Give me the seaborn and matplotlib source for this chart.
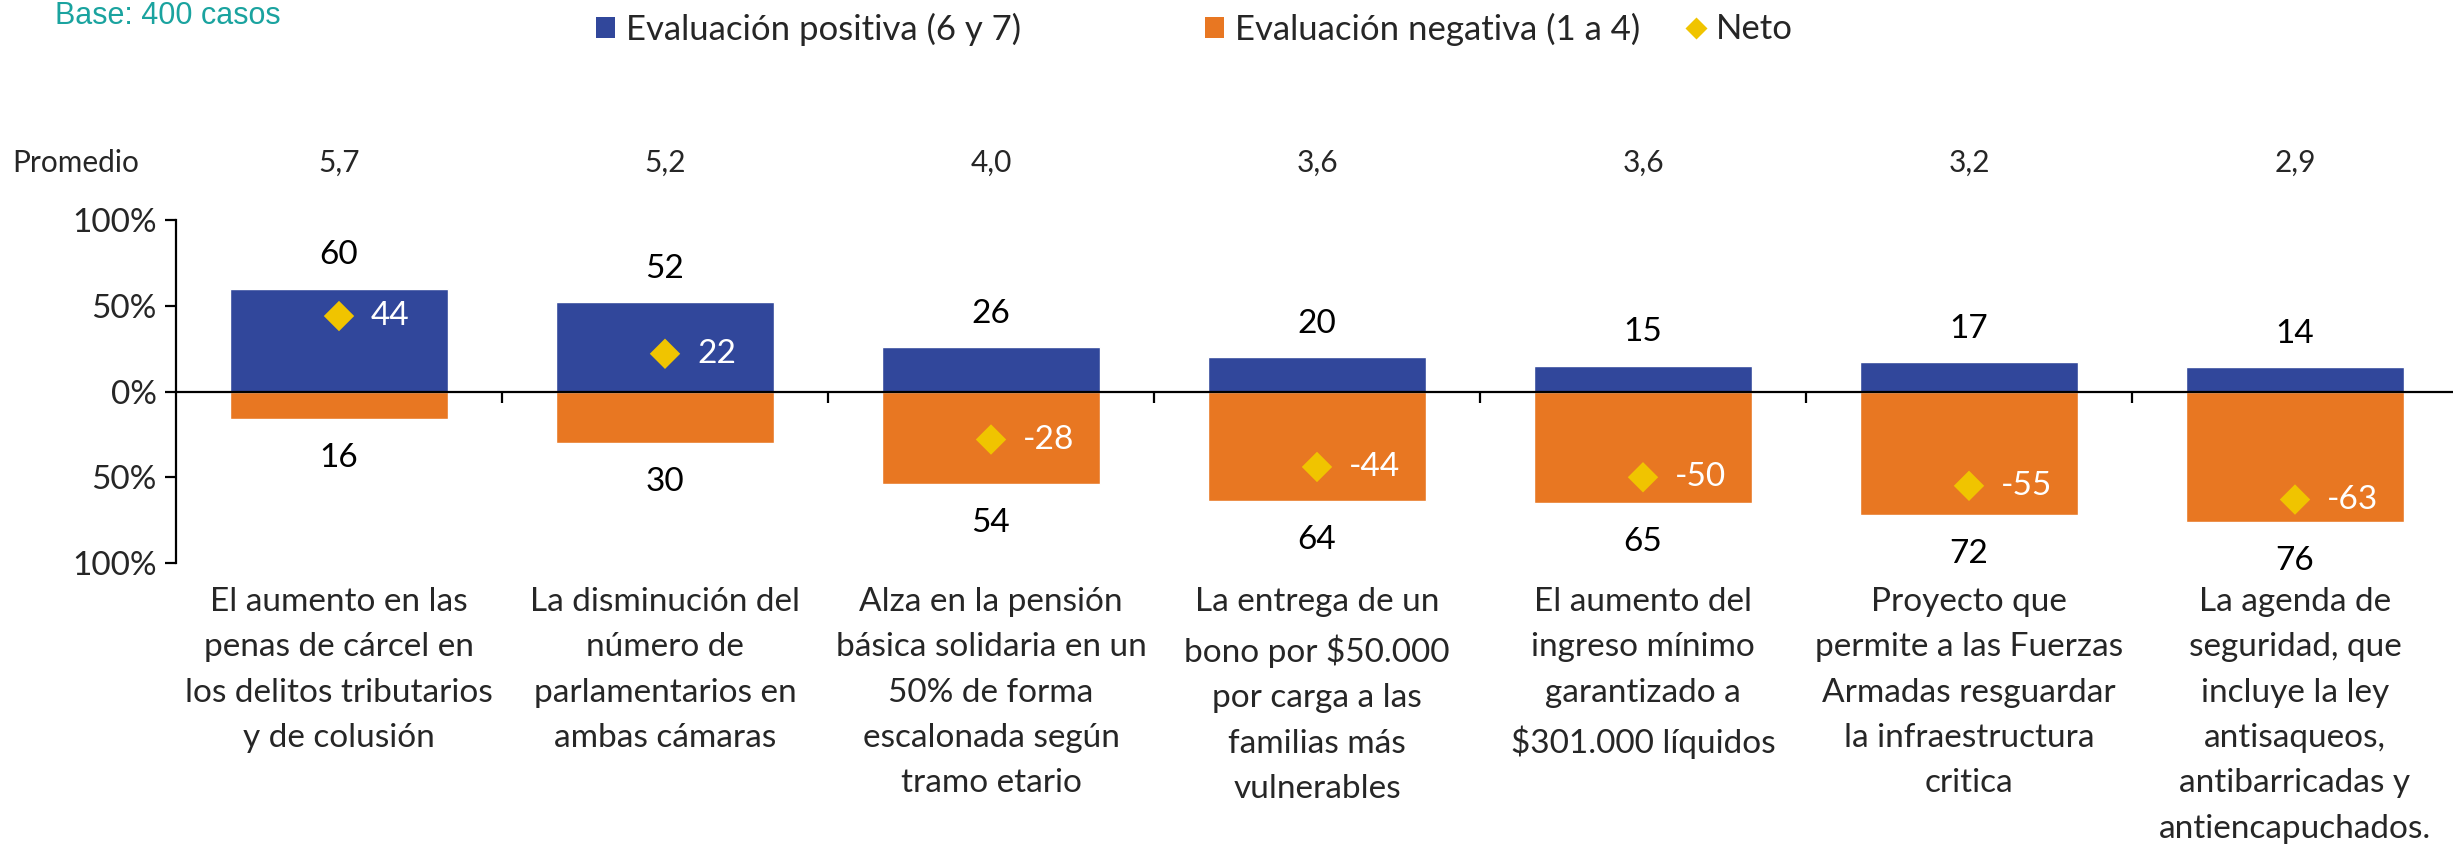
import numpy as np
import matplotlib
matplotlib.use("Agg")
import matplotlib.pyplot as plt
import matplotlib.transforms as mtransforms
from matplotlib.patches import Patch
from matplotlib.lines import Line2D
import seaborn as sns

categories = [
    "El aumento en las\npenas de cárcel en\nlos delitos tributarios\ny de colusión",
    "La disminución del\nnúmero de\nparlamentarios en\nambas cámaras",
    "Alza en la pensión\nbásica solidaria en un\n50% de forma\nescalonada según\ntramo etario",
    "La entrega de un\nbono por $50.000\npor carga a las\nfamilias más\nvulnerables",
    "El aumento del\ningreso mínimo\ngarantizado a\n$301.000 líquidos",
    "Proyecto que\npermite a las Fuerzas\nArmadas resguardar\nla infraestructura\ncritica",
    "La agenda de\nseguridad, que\nincluye la ley\nantisaqueos,\nantibarricadas y\nantiencapuchados.",
]
positive = [60, 52, 26, 20, 15, 17, 14]
negative = [16, 30, 54, 64, 65, 72, 76]
neto = [44, 22, -28, -44, -50, -55, -63]
promedio = [5.7, 5.2, 4.0, 3.6, 3.6, 3.2, 2.9]
y_ticks = [-100, -50, 0, 50, 100]
legend_labels = ["Evaluación positiva (6 y 7)", "Evaluación negativa (1 a 4)", "Neto"]

BLUE = "#31479B"
ORANGE = "#E87722"
YELLOW = "#F0C400"
TEAL = "#1AA39F"

sns.set_theme(style="white")
plt.rcParams["font.family"] = ["Lato", "DejaVu Sans"]

W, H = 2453, 846
fig = plt.figure(figsize=(W / 100, H / 100), dpi=100)
ax = fig.add_axes([176 / W, 1 - 563 / H, 2282 / W, 343 / H])

x = np.arange(len(categories))
sns.barplot(x=x, y=positive, color=BLUE, width=0.67, saturation=1, ax=ax, native_scale=True)
sns.barplot(x=x, y=[-v for v in negative], color=ORANGE, width=0.67, saturation=1, ax=ax, native_scale=True)
sns.scatterplot(x=x, y=neto, marker="D", s=240, color=YELLOW, edgecolor="none", ax=ax, zorder=5)

ax.set_xlim(-0.5, len(categories) - 0.5)
ax.set_ylim(-100, 100)

# y axis
ax.set_yticks(y_ticks)
ax.set_yticklabels([f"{abs(t)}%" for t in y_ticks], fontsize=24)
ax.tick_params(axis="y", direction="out", length=8, width=1.6, color="black", pad=6, left=True)
ax.spines["left"].set_linewidth(1.6)
ax.spines["left"].set_color("black")
ax.spines["top"].set_visible(False)
ax.spines["right"].set_visible(False)
ax.spines["bottom"].set_position(("data", 0))
ax.spines["bottom"].set_linewidth(1.6)
ax.spines["bottom"].set_color("black")
ax.spines["bottom"].set_zorder(4)
ax.set_xticks(np.arange(0.5, len(categories) - 0.5, 1.0))
ax.set_xticklabels([])
ax.tick_params(axis="x", direction="out", length=8, width=1.6, color="black", bottom=True)
ax.set_xlabel("")
ax.set_ylabel("")
ax.grid(False)

# value labels
for i in range(len(categories)):
    ax.annotate(f"{positive[i]}", (x[i], positive[i]), xytext=(0, 24), textcoords="offset points",
                ha="center", va="center", fontsize=24, color="black")
    ax.annotate(f"{negative[i]}", (x[i], -negative[i]), xytext=(0, -28), textcoords="offset points",
                ha="center", va="center", fontsize=24, color="black")
    ax.annotate(f"{neto[i]}", (x[i], neto[i]), xytext=(23, 0), textcoords="offset points",
                ha="left", va="center", fontsize=24, color="white", zorder=6)

# category labels
trans = mtransforms.blended_transform_factory(ax.transData, ax.transAxes)
for i, c in enumerate(categories):
    ax.text(x[i], -0.07, c, transform=trans, ha="center", va="top", fontsize=24,
            linespacing=1.64, parse_math=False, clip_on=False)

# promedio row
for i, p in enumerate(promedio):
    ax.text(x[i], 1.166, f"{p:.1f}".replace(".", ","), transform=trans, ha="center", va="center",
            fontsize=21.5, clip_on=False)
fig.text(12 / W, 1 - 163 / H, "Promedio", ha="left", va="center", fontsize=21.5)

# base
fig.text(55 / W, 1 - 16 / H, "Base: 400 casos", ha="left", va="center", fontsize=22,
         color=TEAL, family=["Liberation Sans", "DejaVu Sans"])

# legend
handles = [
    Patch(facecolor=BLUE, edgecolor="none"),
    Patch(facecolor=ORANGE, edgecolor="none"),
    Line2D([], [], marker="D", linestyle="none", markersize=11, markerfacecolor=YELLOW, markeredgecolor="none"),
]
xpos = [596, 1205, 1686]
for h, lab, xp in zip(handles, legend_labels, xpos):
    fig.legend([h], [lab], loc="center left", bbox_to_anchor=(xp / W, 1 - 29 / H),
               frameon=False, fontsize=25, handlelength=0.55, handleheight=0.55,
               handletextpad=0.3, borderpad=0, borderaxespad=0)

fig.savefig("out.png", dpi=100)
